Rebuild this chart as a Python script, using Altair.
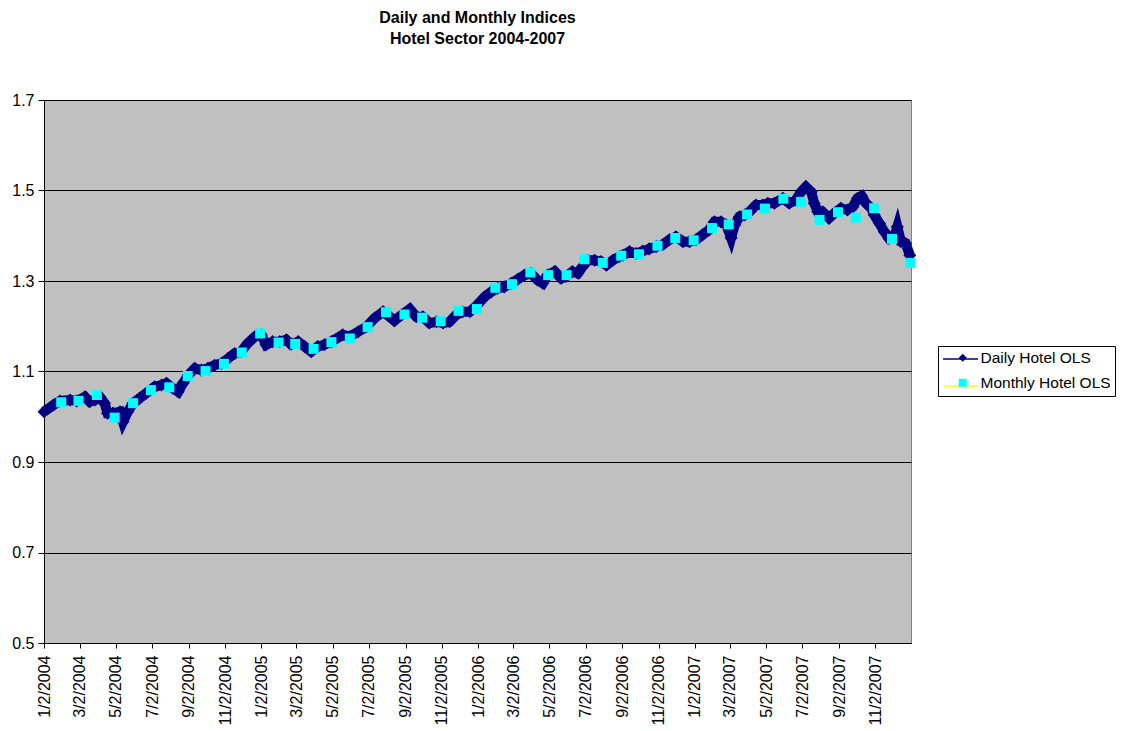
import altair as alt
import pandas as pd

# ---------------- data ----------------
daily_dates = [
    "2004-01-02", "2004-01-18", "2004-01-29", "2004-02-15", "2004-02-26", "2004-03-11",
    "2004-03-19", "2004-03-28", "2004-04-05", "2004-04-13", "2004-04-18", "2004-04-27",
    "2004-05-09", "2004-05-14", "2004-05-22", "2004-05-31", "2004-06-11", "2004-06-22",
    "2004-07-06", "2004-07-18", "2004-07-26", "2004-08-06", "2004-08-15", "2004-08-23",
    "2004-09-01", "2004-09-12", "2004-09-23", "2004-10-04", "2004-10-15", "2004-10-27",
    "2004-11-07", "2004-11-18", "2004-11-29", "2004-12-10", "2004-12-22", "2005-01-02",
    "2005-01-10", "2005-01-21", "2005-02-02", "2005-02-13", "2005-02-21", "2005-03-05",
    "2005-03-16", "2005-03-27", "2005-04-07", "2005-04-18", "2005-04-30", "2005-05-19",
    "2005-05-31", "2005-06-14", "2005-06-28", "2005-07-12", "2005-07-26", "2005-08-06",
    "2005-08-14", "2005-08-26", "2005-09-09", "2005-09-20", "2005-10-01", "2005-10-12",
    "2005-10-24", "2005-11-04", "2005-11-15", "2005-11-26", "2005-12-07", "2005-12-19",
    "2005-12-30", "2006-01-13", "2006-01-24", "2006-02-04", "2006-02-15", "2006-02-27",
    "2006-03-10", "2006-03-21", "2006-04-01", "2006-04-12", "2006-04-21", "2006-04-29",
    "2006-05-11", "2006-05-22", "2006-05-30", "2006-06-10", "2006-06-19", "2006-06-27",
    "2006-07-06", "2006-07-17", "2006-07-28", "2006-08-06", "2006-08-17", "2006-08-28",
    "2006-09-03", "2006-09-14", "2006-09-25", "2006-10-06", "2006-10-17", "2006-10-29",
    "2006-11-09", "2006-11-20", "2006-12-01", "2006-12-13", "2006-12-24", "2007-01-04",
    "2007-01-15", "2007-01-26", "2007-02-04", "2007-02-15", "2007-02-24", "2007-03-04",
    "2007-03-10", "2007-03-18", "2007-03-27", "2007-04-04", "2007-04-15", "2007-04-26",
    "2007-05-05", "2007-05-16", "2007-05-30", "2007-06-10", "2007-06-21", "2007-06-30",
    "2007-07-08", "2007-07-17", "2007-07-22", "2007-07-28", "2007-08-05", "2007-08-16",
    "2007-08-25", "2007-09-05", "2007-09-16", "2007-09-25", "2007-10-03", "2007-10-10",
    "2007-10-17", "2007-10-26", "2007-10-31", "2007-11-09", "2007-11-17", "2007-11-25",
    "2007-12-04", "2007-12-09", "2007-12-15", "2007-12-23", "2007-12-30",
]
daily_values = [
    1.011, 1.026, 1.035, 1.037, 1.035, 1.044,
    1.033, 1.037, 1.044, 1.030, 1.008, 1.008,
    1.011, 0.989, 1.011, 1.030, 1.041, 1.052,
    1.066, 1.070, 1.074, 1.063, 1.055, 1.074,
    1.092, 1.107, 1.103, 1.107, 1.114, 1.118,
    1.129, 1.140, 1.144, 1.162, 1.177, 1.181,
    1.159, 1.166, 1.166, 1.170, 1.160, 1.166,
    1.155, 1.144, 1.155, 1.159, 1.166, 1.181,
    1.177, 1.188, 1.199, 1.218, 1.232, 1.221,
    1.212, 1.225, 1.238, 1.221, 1.221, 1.207,
    1.210, 1.207, 1.210, 1.225, 1.232, 1.232,
    1.245, 1.265, 1.276, 1.284, 1.287, 1.295,
    1.304, 1.313, 1.317, 1.302, 1.295, 1.313,
    1.321, 1.306, 1.310, 1.321, 1.317, 1.332,
    1.346, 1.346, 1.343, 1.335, 1.346, 1.354,
    1.357, 1.365, 1.361, 1.366, 1.371, 1.376,
    1.380, 1.391, 1.398, 1.387, 1.387, 1.391,
    1.402, 1.413, 1.431, 1.431, 1.424, 1.395,
    1.424, 1.442, 1.446, 1.453, 1.468, 1.468,
    1.472, 1.472, 1.483, 1.472, 1.479, 1.497,
    1.508, 1.497, 1.472, 1.453, 1.453, 1.439,
    1.450, 1.461, 1.457, 1.464, 1.483, 1.488,
    1.472, 1.461, 1.446, 1.427, 1.409, 1.394,
    1.398, 1.420, 1.387, 1.383, 1.357,
]

monthly_dates = [
    "2004-01-31", "2004-02-29", "2004-03-31", "2004-04-30", "2004-05-31", "2004-06-30",
    "2004-07-31", "2004-08-31", "2004-09-30", "2004-10-31", "2004-11-30", "2004-12-31",
    "2005-01-31", "2005-02-28", "2005-03-31", "2005-04-30", "2005-05-31", "2005-06-30",
    "2005-07-31", "2005-08-31", "2005-09-30", "2005-10-31", "2005-11-30", "2005-12-31",
    "2006-01-31", "2006-02-28", "2006-03-31", "2006-04-30", "2006-05-31", "2006-06-30",
    "2006-07-31", "2006-08-31", "2006-09-30", "2006-10-31", "2006-11-30", "2006-12-31",
    "2007-01-31", "2007-02-28", "2007-03-31", "2007-04-30", "2007-05-31", "2007-06-30",
    "2007-07-31", "2007-08-31", "2007-09-30", "2007-10-31", "2007-11-30", "2007-12-31",
]
monthly_values = [
    1.032, 1.035, 1.048, 0.998, 1.030, 1.059, 1.065, 1.090, 1.101, 1.117, 1.142, 1.184,
    1.164, 1.161, 1.150, 1.165, 1.173, 1.198, 1.231, 1.226, 1.219, 1.211, 1.234, 1.238,
    1.285, 1.293, 1.319, 1.313, 1.313, 1.348, 1.340, 1.356, 1.359, 1.378, 1.395, 1.390,
    1.417, 1.425, 1.447, 1.460, 1.482, 1.475, 1.435, 1.452, 1.440, 1.461, 1.393, 1.340,
]

series_names = ["Daily Hotel OLS", "Monthly Hotel OLS"]
title_lines = ["Daily and Monthly Indices", "Hotel Sector 2004-2007"]
y_ticks = [0.5, 0.7, 0.9, 1.1, 1.3, 1.5, 1.7]
x_tick_years = [2004, 2005, 2006, 2007]
x_tick_months = [1, 3, 5, 7, 9, 11]

# ---------------- tables ----------------
# "series" drives the line legend, "marker" the marker legend (same names,
# separate fields so the two legends are laid out independently).
daily = pd.DataFrame({
    "date": pd.to_datetime(daily_dates),
    "value": daily_values,
    "series": series_names[0],
    "marker": series_names[0] + " ",
})
monthly = pd.DataFrame({
    "date": pd.to_datetime(monthly_dates),
    "value": monthly_values,
    "series": series_names[1],
    "marker": series_names[1] + " ",
})
marker_keys = [s + " " for s in series_names]

FONT = "Liberation Sans"
NAVY = "#000080"
CYAN = "#00FFFF"
YELLOW = "#FFFF00"

x_values = [alt.DateTime(year=y, month=m, date=2) for y in x_tick_years for m in x_tick_months]

x_enc = alt.X(
    "date:T",
    scale=alt.Scale(
        domain=[alt.DateTime(year=2004, month=1, date=2), alt.DateTime(year=2008, month=1, date=1)],
        nice=False,
    ),
    axis=alt.Axis(
        values=x_values, format="%-m/%-d/%Y", labelAngle=270, title=None, grid=False,
        tickSize=5, labelPadding=7, domainColor="black", tickColor="black",
        labelFontSize=16, labelFont=FONT, labelColor="black", labelOverlap=False,
    ),
)
y_enc = alt.Y(
    "value:Q",
    scale=alt.Scale(domain=[0.5, 1.7], nice=False, zero=False),
    axis=alt.Axis(
        values=y_ticks, format=".1f", title=None, grid=True, gridColor="black",
        gridOpacity=1, gridWidth=1, tickSize=6, labelPadding=4, domainColor="black",
        tickColor="black", labelFontSize=16, labelFont=FONT, labelColor="black",
    ),
)

LEG_X = 894
LEG_Y = 246
LEG_FONT = 15.5
LEG_PAD = 4

# line part of the legend entries (no labels, no frame)
line_legend = alt.Legend(
    title=None, orient="none", legendX=LEG_X, legendY=LEG_Y - 9.5,
    symbolType="stroke", symbolSize=1225, symbolStrokeWidth=1.5,
    labelFontSize=LEG_FONT, labelFont=FONT, labelColor="transparent", labelOffset=5,
    labelExpr="''",
    rowPadding=-11, padding=LEG_PAD,
)
# marker part of the legend entries, with the visible labels and the frame
point_legend = alt.Legend(
    title=None, orient="none", legendX=LEG_X, legendY=LEG_Y,
    symbolSize=64, symbolOffset=13, symbolStrokeWidth=0,
    labelFontSize=LEG_FONT, labelFont=FONT, labelColor="black", labelOffset=10,
    labelExpr="trim(datum.label)",
    rowPadding=8, padding=LEG_PAD, strokeColor="black",
)

color_scale = alt.Scale(domain=series_names, range=[NAVY, YELLOW])
fill_scale = alt.Scale(domain=marker_keys, range=[NAVY, CYAN])
shape_scale = alt.Scale(domain=marker_keys, range=["diamond", "square"])

band = alt.Chart(daily).mark_line(color=NAVY, strokeWidth=10).encode(x=x_enc, y=y_enc)

daily_line = alt.Chart(daily).mark_line(strokeWidth=1.5).encode(
    x=x_enc, y=y_enc,
    color=alt.Color("series:N", scale=color_scale, legend=line_legend),
)

daily_pts = alt.Chart(daily).mark_point(filled=True, size=170, opacity=1, strokeWidth=0).encode(
    x=x_enc, y=y_enc,
    shape=alt.Shape("marker:N", scale=shape_scale, legend=point_legend),
    fill=alt.Fill("marker:N", scale=fill_scale, legend=point_legend),
)

monthly_pts = alt.Chart(monthly).mark_point(filled=True, size=100, opacity=1, strokeWidth=0).encode(
    x=x_enc, y=y_enc,
    shape=alt.Shape("marker:N", scale=shape_scale, legend=point_legend),
    fill=alt.Fill("marker:N", scale=fill_scale, legend=point_legend),
)

chart = alt.layer(band, daily_line, daily_pts, monthly_pts).properties(
    width=867,
    height=543,
    autosize=alt.AutoSizeParams(type="none"),
    padding={"left": 36, "top": 92, "right": 205, "bottom": 88},
    title=alt.TitleParams(
        text=title_lines, fontSize=16, font=FONT, fontWeight="bold", color="black",
        anchor="middle", frame="group", offset=45, lineHeight=21,
    ),
    background="white",
).configure_view(
    fill="#C0C0C0", stroke="#808080", strokeWidth=1,
)

chart.save("out.html", embed_options={"renderer": "svg", "actions": False})
